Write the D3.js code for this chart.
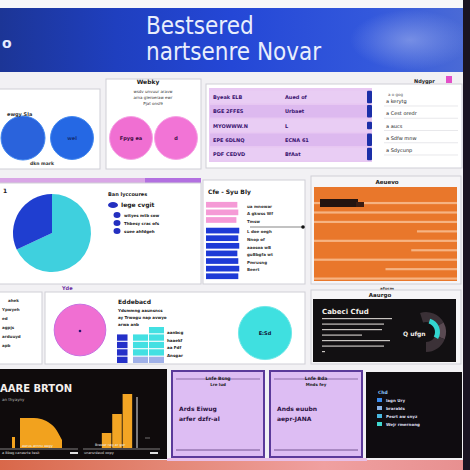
<!DOCTYPE html>
<html><head><meta charset="utf-8">
<script src="https://cdn.jsdelivr.net/npm/d3@7"></script>
<style>html,body{margin:0;padding:0;background:#f1f0f3;}svg{display:block;}</style>
</head><body><div id="c"></div>
<script>
// ---------- data ----------
const titleLines = ["Bestsered", "nartsenre Novar"];
const row1CircleLabels = ["ewgy", "wel", "Fpyg ea", "d"];
const row1CircleValues = [1, 0.95, 0.95, 0.95];
const tableCol1 = ["Byeak ELB", "BGE 2FFES", "MYOWWW.N", "EPE 6DLNQ", "PDF CEDVD"];
const tableCol2 = ["Aued of", "Urbaet", "L", "ECNA 61", "BfAat"];
const tableMarks = [1, 1, 0.6, 1, 1];
const listItems = ["a kerytg", "a Cest oredr", "a aucs", "a Sdfw mnw", "a Sdycunp"];
const pieLabels = ["Cyan", "Blue"];
const pieValues = [68, 32];
const pieLegend = ["Iege cvgit", "wityes mtb cow", "Thbesy crac ofs", "suee ahfdgeh"];
const pinkBars = [33, 34, 32];
const blueBars = [35, 34, 35, 33, 34, 35, 34];
const barLabels = ["ua mnowar", "A gkwss Wf", "Tmsw", "L doe oegh", "Nnop of", "aaosoa wB", "guBbgfa wt", "Pmrusng", "Beert", ""];
const stripeValues = [100, 100, 100, 100, 100, 100, 100, 100, 100];
const stripeBreaks = [0, 0, 0, 72, 0, 68, 0, 50, 0];
const gridRows = [[0, 0, 1], [1, 1, 1], [1, 1, 1], [1, 1, 1], [1, 0.6, 0.4]];
const gridLabels = ["aanbcg", "haaekf", "aa Fdf", "Ansgar"];
const areaX = [0, 1, 2, 3, 4, 5, 6];
const areaY = [30, 30, 30, 29, 26, 20, 8];
const barCats = ["a", "b", "c"];
const barVals = [15, 34, 54];
const lavCards = [["Lnfe Bsng", "Lre lud", "Ards Eiwug", "arfer dzfr-al"], ["Lnfe Bda", "Mnds fey", "Ands euubn", "aepr-JANA"]];
const darkLegend = ["lagn Ury", "brarabls", "Pesrt aw snyz", "Wejr rmernong"];

// ---------- drawing ----------
const W = 470, H = 470;
const svg = d3.select("#c").append("svg").attr("width", W).attr("height", H);
const F = "DejaVu Sans, Arial, sans-serif";
const defs = svg.append("defs");

svg.append("rect").attr("width", W).attr("height", H).attr("fill", "#f2f1f4");

// banner
const bg = defs.append("linearGradient").attr("id", "ban").attr("x1", 0).attr("x2", 1);
[[0, "#1c3596"], [0.25, "#1f3fbf"], [0.5, "#2447d6"], [0.8, "#3358dc"], [1, "#4a6ad6"]].forEach(s => bg.append("stop").attr("offset", s[0]).attr("stop-color", s[1]));
svg.append("rect").attr("x", 0).attr("y", 0).attr("width", W).attr("height", 8).attr("fill", "#f7f7f9");
svg.append("rect").attr("x", 0).attr("y", 8).attr("width", 463).attr("height", 64).attr("fill", "url(#ban)");
const rg = defs.append("radialGradient").attr("id", "glow");
rg.append("stop").attr("offset", 0).attr("stop-color", "#8ea2ea").attr("stop-opacity", 0.7);
rg.append("stop").attr("offset", 1).attr("stop-color", "#8ea2ea").attr("stop-opacity", 0);
svg.append("ellipse").attr("cx", 410).attr("cy", 40).attr("rx", 60).attr("ry", 30).attr("fill", "url(#glow)");
svg.append("text").attr("x", 2).attr("y", 48).attr("fill", "#e6ecff").attr("font-family", F).attr("font-size", 14).attr("font-weight", "bold").text("o");
svg.selectAll(".tl").data(titleLines).join("text")
  .attr("x", 146).attr("y", (d, i) => 34 + i * 26)
  .attr("fill", "#e9eefc").attr("font-family", "DejaVu Sans Condensed, DejaVu Sans, sans-serif").attr("font-size", 24)
  .text(d => d);

// right dark strip
svg.append("rect").attr("x", 463).attr("y", 0).attr("width", 7).attr("height", H).attr("fill", "#1a1422");

function panel(x, y, w, h, fill, stroke) {
  return svg.append("rect").attr("x", x).attr("y", y).attr("width", w).attr("height", h)
    .attr("fill", fill || "#fff").attr("stroke", stroke || "#cfcfd6").attr("stroke-width", 1);
}
function txt(x, y, s, size, col, wt, anchor) {
  return svg.append("text").attr("x", x).attr("y", y).attr("font-family", F).attr("font-size", size || 5)
    .attr("fill", col || "#222").attr("font-weight", wt || "bold").attr("text-anchor", anchor || "start").text(s);
}

// ---- row 1 ----
panel(-1, 89, 101, 80);
panel(106, 79, 95, 90);
panel(206, 84, 256, 84);
const rScale = d3.scaleSqrt().domain([0, 1]).range([0, 22]);
const circleFill = ["#2a63dc", "#2568e4", "#f06fd2", "#f274d6"];
const circleCx = [23, 72, 131, 176];
svg.selectAll(".c1").data(row1CircleValues).join("circle")
  .attr("cx", (d, i) => circleCx[i]).attr("cy", 138).attr("r", d => rScale(d))
  .attr("fill", (d, i) => circleFill[i]).attr("stroke", (d, i) => i < 2 ? "#3f86f0" : "#f6a0e4").attr("stroke-width", 1);
svg.selectAll(".c1t").data(row1CircleLabels).join("text")
  .attr("x", (d, i) => circleCx[i]).attr("y", 140).attr("text-anchor", "middle")
  .attr("font-family", F).attr("font-size", 5).attr("font-weight", "bold")
  .attr("fill", (d, i) => i < 2 ? "#14307a" : "#3a0a40").text((d, i) => i === 0 ? "" : d);
txt(7, 116, "ewgy Sla", 5, "#333");
txt(30, 165, "dkn mark", 4.5, "#333");
txt(148, 84, "Webky", 6, "#222", "bold", "middle");
txt(153, 93, "wsdv unvuur aravw", 4, "#333", "normal", "middle");
txt(153, 99, "arna gleroeraw ewr", 4, "#333", "normal", "middle");
txt(153, 105, "Pjat onsl9", 4, "#333", "normal", "middle");

// table
txt(414, 83, "Ndygpr", 5, "#222");
svg.append("rect").attr("x", 446).attr("y", 76).attr("width", 6).attr("height", 7).attr("fill", "#e34fc8");
svg.append("rect").attr("x", 209).attr("y", 88).attr("width", 163).attr("height", 74).attr("fill", "#e8c8f2");
const rowY = d3.scaleBand().domain(d3.range(tableCol1.length)).range([89, 162]).padding(0.12);
svg.selectAll(".tr").data(tableCol1).join("rect")
  .attr("x", 210).attr("y", (d, i) => rowY(i)).attr("width", 160).attr("height", rowY.bandwidth())
  .attr("fill", (d, i) => i % 2 ? "#ddb9ef" : "#e9cdf4");
svg.selectAll(".tc1").data(tableCol1).join("text")
  .attr("x", 213).attr("y", (d, i) => rowY(i) + rowY.bandwidth() / 2 + 2)
  .attr("font-family", F).attr("font-size", 5).attr("font-weight", "bold").attr("fill", "#3a1470").text(d => d);
svg.selectAll(".tc2").data(tableCol2).join("text")
  .attr("x", 285).attr("y", (d, i) => rowY(i) + rowY.bandwidth() / 2 + 2)
  .attr("font-family", F).attr("font-size", 5).attr("font-weight", "bold").attr("fill", "#3a1470").text(d => d);
const markH = d3.scaleLinear().domain([0, 1]).range([0, rowY.bandwidth()]);
svg.selectAll(".tm").data(tableMarks).join("rect")
  .attr("x", 367).attr("y", (d, i) => rowY(i) + (rowY.bandwidth() - markH(d)) / 2)
  .attr("width", 5).attr("height", d => markH(d)).attr("rx", 1).attr("fill", "#1c2fa8");
const listY = d3.scalePoint().domain(d3.range(listItems.length)).range([103, 152]);
svg.selectAll(".li").data(listItems).join("text")
  .attr("x", 386).attr("y", (d, i) => listY(i))
  .attr("font-family", F).attr("font-size", 5).attr("fill", "#222").text(d => d);
svg.selectAll(".ll").data(listItems).join("line")
  .attr("x1", 384).attr("x2", 458).attr("y1", (d, i) => listY(i) + 3).attr("y2", (d, i) => listY(i) + 3)
  .attr("stroke", "#d8d8dd").attr("stroke-width", 0.6);
txt(388, 96, "a o gog", 4, "#555", "normal");

// ---- row 2 ----
svg.append("rect").attr("x", 0).attr("y", 178).attr("width", 201).attr("height", 5).attr("fill", "#d9a6e6");
svg.append("rect").attr("x", 145).attr("y", 178).attr("width", 56).attr("height", 5).attr("fill", "#b270e0");
panel(-1, 183, 202, 101);
const pie = d3.pie().sort(null).startAngle(0).endAngle(2 * Math.PI);
const arcs = pie(pieValues);
const arc = d3.arc().innerRadius(0).outerRadius(39);
const pieColors = ["#3fd0de", "#1f3ed0"];
svg.append("g").attr("transform", "translate(52,233)")
  .selectAll("path").data(arcs).join("path").attr("d", arc).attr("fill", (d, i) => pieColors[i]);
txt(3, 193, "1", 6, "#222");
txt(108, 196, "Ban lyccoures", 5, "#222");
const legY = [207, 217, 225, 233];
svg.selectAll(".pl").data(pieLegend).join("ellipse")
  .attr("cx", (d, i) => i === 0 ? 113 : 117).attr("cy", (d, i) => legY[i] - 2)
  .attr("rx", (d, i) => i === 0 ? 5 : 3.5).attr("ry", 3).attr("fill", "#2430c0");
svg.selectAll(".plt").data(pieLegend).join("text")
  .attr("x", (d, i) => i === 0 ? 121 : 124).attr("y", (d, i) => legY[i])
  .attr("font-family", F).attr("font-size", (d, i) => i === 0 ? 6 : 4).attr("font-weight", "bold").attr("fill", "#222").text(d => d);

panel(203, 180, 102, 104);
txt(208, 194, "Cfe - Syu Bly", 6, "#222");
const xb = d3.scaleLinear().domain([0, 40]).range([0, 38]);
const allBars = pinkBars.map(v => ({v, c: "#f59ad6"})).concat(blueBars.map(v => ({v, c: "#1e3ad6"})));
const yb = d3.scaleBand().domain(d3.range(allBars.length)).range([200, 278]).padding(0.25);
svg.selectAll(".hb").data(allBars).join("rect")
  .attr("x", 206).attr("y", (d, i) => yb(i) + (i >= 3 ? 3 : 0)).attr("width", d => xb(d.v)).attr("height", yb.bandwidth())
  .attr("fill", d => d.c);
svg.selectAll(".hbt").data(allBars).join("text")
  .attr("x", 247).attr("y", (d, i) => yb(i) + (i >= 3 ? 3 : 0) + yb.bandwidth())
  .attr("font-family", F).attr("font-size", 4).attr("font-weight", "bold").attr("fill", "#333").text((d, i) => barLabels[i]);
svg.append("line").attr("x1", 250).attr("x2", 303).attr("y1", 227).attr("y2", 227).attr("stroke", "#333").attr("stroke-width", 0.6);
svg.append("circle").attr("cx", 303).attr("cy", 227).attr("r", 1.8).attr("fill", "#111");

// orange panel
panel(311, 176, 150, 108, "#f6f5f7");
txt(387, 184, "Aeuevo", 5.5, "#222", "bold", "middle");
svg.append("rect").attr("x", 314).attr("y", 187).attr("width", 143).attr("height", 94).attr("fill", "#e9772b");
const ys = d3.scaleBand().domain(d3.range(stripeValues.length)).range([195, 280]).padding(0.0);
const xs = d3.scaleLinear().domain([0, 100]).range([314, 457]);
svg.selectAll(".st").data(stripeValues).join("rect")
  .attr("x", (d, i) => xs(stripeBreaks[i])).attr("y", (d, i) => ys(i) + ys.bandwidth() - 2.5)
  .attr("width", (d, i) => xs(d) - xs(stripeBreaks[i])).attr("height", 2.2).attr("fill", "#f7b98c").attr("opacity", 0.9);
svg.append("rect").attr("x", 320).attr("y", 199).attr("width", 38).attr("height", 8).attr("fill", "#241410");
svg.append("rect").attr("x", 356).attr("y", 202).attr("width", 8).attr("height", 5).attr("fill", "#3a1c12");
txt(387, 290, "afucm", 4, "#333", "bold", "middle");

// ---- row 3 ----
panel(-1, 292, 43, 72);
const leftNotes = ["ahek", "Ypwyeh", "ed", "agpjs", "arduuyd", "apb"];
svg.selectAll(".ln").data(leftNotes).join("text")
  .attr("x", (d, i) => i === 0 ? 8 : 2).attr("y", (d, i) => 302 + i * 9)
  .attr("font-family", F).attr("font-size", 4).attr("font-weight", "bold").attr("fill", "#333").text(d => d);
panel(45, 292, 260, 72);
txt(62, 290, "Yde", 5, "#6a2aa0");
const r3Vals = [0.85, 0.9];
const r3r = d3.scaleSqrt().domain([0, 1]).range([0, 28]);
svg.selectAll(".c3").data(r3Vals).join("circle")
  .attr("cx", (d, i) => [80, 265][i]).attr("cy", (d, i) => [330, 333][i]).attr("r", d => r3r(d))
  .attr("fill", (d, i) => ["#f06fd2", "#3fe0e0"][i]).attr("stroke", (d, i) => ["#c86fe0", "#70e8e8"][i]);
svg.append("circle").attr("cx", 80).attr("cy", 331).attr("r", 1.3).attr("fill", "#2a1470");
txt(265, 335, "E:Sd", 5, "#113", "bold", "middle");
txt(118, 304, "Eddebacd", 6, "#222");
txt(118, 312, "Ydsmmng aaunsncs", 4, "#222");
txt(118, 319, "ay Trwogu nap avwyo", 4, "#222");
txt(118, 326, "arwa anb", 4, "#222");
const gx = d3.scaleBand().domain(d3.range(3)).range([117, 164]).paddingInner(0.06);
const gy = d3.scaleBand().domain(d3.range(gridRows.length)).range([327, 363]).paddingInner(0.15);
const cells = [];
gridRows.forEach((r, ri) => r.forEach((v, ci) => { if (v > 0) cells.push({ri, ci, v}); }));
svg.selectAll(".gc").data(cells).join("rect")
  .attr("x", d => gx(d.ci)).attr("y", d => gy(d.ri)).attr("width", d => gx.bandwidth() * (d.ci === 0 ? d.v : 1) * (d.ci === 0 ? 0.7 : 1))
  .attr("height", gy.bandwidth()).attr("fill", d => d.ci === 0 ? "#2430c8" : (d.ri === 4 ? "#9fb0e8" : "#43e0e2"));
svg.selectAll(".gl").data(gridLabels).join("text")
  .attr("x", 167).attr("y", (d, i) => gy(i) + gy.bandwidth() + 1)
  .attr("font-family", F).attr("font-size", 4).attr("font-weight", "bold").attr("fill", "#222").text(d => d);

panel(311, 290, 150, 74, "#f6f5f7");
txt(380, 297, "Aaurgo", 5.5, "#222", "bold", "middle");
svg.append("rect").attr("x", 313).attr("y", 299).attr("width", 143).attr("height", 63).attr("fill", "#121012");
txt(322, 314, "Cabeci Cfud", 7, "#f2eee8");
const lineW = [70, 62, 60, 40, 68, 62, 3];
svg.selectAll(".dl").data(lineW).join("rect")
  .attr("x", 322).attr("y", (d, i) => 318 + i * 5.5).attr("width", d => d).attr("height", 1.2).attr("fill", "#c8c4c0");
const donutArc = d3.arc().innerRadius(10).outerRadius(20);
const donutVals = [40, 25, 35];
const dArcs = d3.pie().sort(null).startAngle(-0.3).endAngle(Math.PI)(donutVals);
svg.append("g").attr("transform", "translate(426,332)").selectAll("path").data(dArcs).join("path")
  .attr("d", donutArc).attr("fill", (d, i) => ["#3a3036", "#5a4a52", "#3b3137"][i]);
svg.append("path").attr("transform", "translate(426,332)")
  .attr("d", d3.arc().innerRadius(9).outerRadius(14)({startAngle: 0.3, endAngle: 2.1})).attr("fill", "#32d6d0");
txt(403, 336, "Q ufgn", 6, "#f2eee8");

// ---- row 4 ----
svg.append("rect").attr("x", 0).attr("y", 369).attr("width", 167).attr("height", 90).attr("fill", "#0f0b0c");
txt(0, 392, "AARE BRTON", 10, "#f4f0ec");
txt(2, 401, "an thyayny", 4, "#bbb", "normal");
const ax = d3.scaleLinear().domain([0, 6]).range([20, 62]);
const ay = d3.scaleLinear().domain([0, 30]).range([448, 418]);
const areaGen = d3.area().x((d, i) => ax(areaX[i])).y0(448).y1(d => ay(d)).curve(d3.curveMonotoneX);
svg.append("path").attr("d", areaGen(areaY)).attr("fill", "#f2a21e");
svg.append("rect").attr("x", 12).attr("y", ay(11)).attr("width", 3).attr("height", 448 - ay(11)).attr("fill", "#f2a21e");
const bx = d3.scaleBand().domain(barCats).range([101, 133]).padding(0.08);
const by = d3.scaleLinear().domain([0, 55]).range([448, 393]);
svg.selectAll(".ob").data(barVals).join("rect")
  .attr("x", (d, i) => bx(barCats[i])).attr("y", d => by(d)).attr("width", bx.bandwidth()).attr("height", d => 448 - by(d))
  .attr("fill", "#f3a524");
svg.append("line").attr("x1", 137).attr("x2", 137).attr("y1", 397).attr("y2", 448).attr("stroke", "#e8e8e8").attr("stroke-width", 1);
svg.append("line").attr("x1", 145).attr("x2", 150).attr("y1", 438).attr("y2", 438).attr("stroke", "#888").attr("stroke-width", 0.8);
svg.append("line").attr("x1", 0).attr("x2", 78).attr("y1", 449).attr("y2", 449).attr("stroke", "#ccc").attr("stroke-width", 0.6);
svg.append("line").attr("x1", 83).attr("x2", 160).attr("y1", 449).attr("y2", 449).attr("stroke", "#ccc").attr("stroke-width", 0.6);
txt(22, 447, "aerus arnnu eegy", 3.5, "#eee", "normal");
txt(2, 454, "a Bbeg canasrte kesk", 3.5, "#ddd", "normal");
txt(95, 446, "Braeer rag ar ger", 3.5, "#eee", "normal");
txt(84, 454, "unarsrdeud oopy", 3.5, "#ddd", "normal");
svg.append("rect").attr("x", 70).attr("y", 452).attr("width", 8).attr("height", 2).attr("fill", "#ddd");
svg.append("rect").attr("x", 150).attr("y", 452).attr("width", 8).attr("height", 2).attr("fill", "#ddd");

const cardX = [171, 269];
lavCards.forEach((c, k) => {
  const x = cardX[k];
  svg.append("rect").attr("x", x).attr("y", 370).attr("width", 94).attr("height", 88).attr("fill", "#5b3a9a");
  svg.append("rect").attr("x", x + 2).attr("y", 372).attr("width", 90).attr("height", 84).attr("fill", "#ddbdf3");
  svg.append("line").attr("x1", x + 5).attr("x2", x + 89).attr("y1", 379).attr("y2", 379).attr("stroke", "#5a3a7a").attr("stroke-width", 0.6);
  svg.append("line").attr("x1", x + 5).attr("x2", x + 89).attr("y1", 450).attr("y2", 450).attr("stroke", "#5a3a7a").attr("stroke-width", 0.8);
  txt(x + 47, 380, c[0], 4.5, "#222", "bold", "middle");
  txt(x + 47, 386, c[1], 4, "#222", "bold", "middle");
  txt(x + 8, 411, c[2], 6, "#2a1040");
  txt(x + 8, 421, c[3], 6, "#2a1040");
});

svg.append("rect").attr("x", 366).attr("y", 372).attr("width", 96).attr("height", 86).attr("fill", "#0f0c10");
txt(378, 394, "Chd", 4.5, "#8ec8ff");
const legCol = ["#3a8cf0", "#8ab4e8", "#4ab8e0", "#40d8d0"];
svg.selectAll(".dlg").data(darkLegend).join("rect")
  .attr("x", 377).attr("y", (d, i) => 398 + i * 8).attr("width", 5).attr("height", 4).attr("fill", (d, i) => legCol[i]);
svg.selectAll(".dlt").data(darkLegend).join("text")
  .attr("x", 386).attr("y", (d, i) => 402 + i * 8)
  .attr("font-family", F).attr("font-size", 4).attr("font-weight", "bold").attr("fill", "#dde").text(d => d);

// bottom strip
const bs = defs.append("linearGradient").attr("id", "bs").attr("x1", 0).attr("x2", 1);
[[0, "#d9684a"], [0.4, "#e58a7a"], [0.7, "#f0a0a0"], [1, "#e89090"]].forEach(s => bs.append("stop").attr("offset", s[0]).attr("stop-color", s[1]));
svg.append("rect").attr("x", 0).attr("y", 460).attr("width", 463).attr("height", 10).attr("fill", "url(#bs)");
svg.append("rect").attr("x", 167).attr("y", 458).attr("width", 200).attr("height", 3).attr("fill", "#e8c0e8");
</script>
</body></html>
